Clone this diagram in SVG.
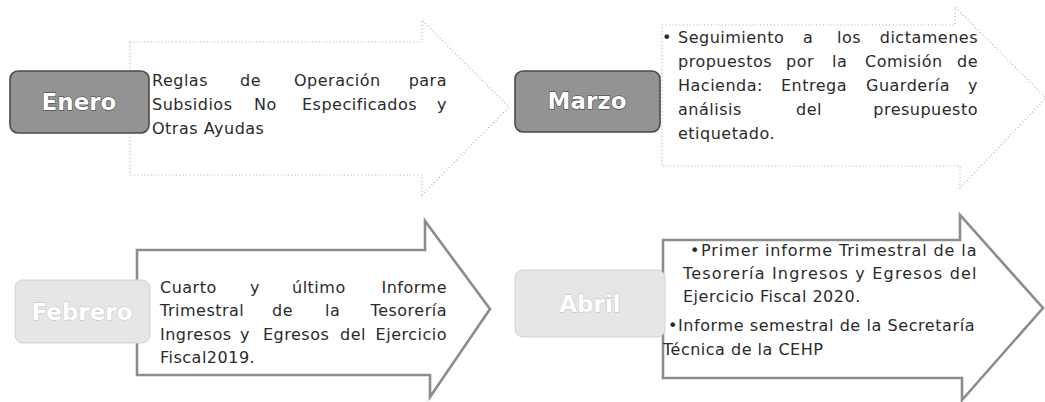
<svg xmlns="http://www.w3.org/2000/svg" width="1045" height="402" viewBox="0 0 1045 402">
<style>
.bg{fill:#ffffff}
.arrowTop{fill:#ffffff;stroke:#b0b0b0;stroke-width:1.2;stroke-dasharray:1 2.5;stroke-linejoin:miter}
.arrowBot{fill:#ffffff;stroke:#8c8c8c;stroke-width:2.6;stroke-linejoin:miter}
.boxDark{fill:#939393;stroke:#4a4a4a;stroke-width:1.6}
.boxLight{fill:#e6e6e6;stroke:#d2d2d2;stroke-width:1}
.lblDark{font-family:"DejaVu Sans","Liberation Sans",sans-serif;font-weight:bold;font-size:23px;fill:#ffffff;stroke:#3a3a3a;stroke-width:1;paint-order:stroke;text-anchor:middle}
.lblLight{font-family:"DejaVu Sans","Liberation Sans",sans-serif;font-weight:bold;font-size:23px;fill:#ffffff;stroke:#c4c4c4;stroke-width:0.9;paint-order:stroke;text-anchor:middle}
.t{font-family:"DejaVu Sans","Liberation Sans",sans-serif;font-size:16px;fill:#2a2a2a;letter-spacing:0.5px}
.e{text-anchor:end}
</style>
<rect class="bg" x="0" y="0" width="1045" height="402"/>

<g id="enero">
  <path class="arrowTop" d="M130,42 H422 V20 L509,107 L422,195 V175 H130 Z"/>
  <rect class="boxDark" x="10" y="71" width="139" height="62" rx="8"/>
  <text class="lblDark" x="79" y="110">Enero</text>
  <text class="t" y="86"><tspan x="152">Reglas</tspan><tspan x="240">de</tspan><tspan x="294">Operación</tspan></text>
  <text class="t e" x="447" y="86">para</text>
  <text class="t" y="110"><tspan x="152">Subsidios</tspan><tspan x="254">No</tspan><tspan x="302">Especificados</tspan></text>
  <text class="t e" x="447" y="110">y</text>
  <text class="t" x="152" y="134">Otras Ayudas</text>
</g>

<g id="marzo">
  <path class="arrowTop" d="M662,25 H955 V7 L1046,98 L960,188 V166 H662 Z"/>
  <rect class="boxDark" x="515" y="71" width="145" height="61" rx="8"/>
  <text class="lblDark" x="587" y="109">Marzo</text>
  <text class="t" x="662" y="43">•</text>
  <text class="t" y="43"><tspan x="678">Seguimiento</tspan><tspan x="803">a</tspan><tspan x="837">los</tspan></text>
  <text class="t e" x="978" y="43">dictamenes</text>
  <text class="t" y="67"><tspan x="678">propuestos</tspan><tspan x="786">por</tspan><tspan x="832">la</tspan><tspan x="865">Comisión</tspan></text>
  <text class="t e" x="978" y="67">de</text>
  <text class="t" y="91"><tspan x="678">Hacienda:</tspan><tspan x="781">Entrega</tspan><tspan x="866">Guardería</tspan></text>
  <text class="t e" x="978" y="91">y</text>
  <text class="t" y="115"><tspan x="678">análisis</tspan><tspan x="796">del</tspan></text>
  <text class="t e" x="978" y="115">presupuesto</text>
  <text class="t" x="678" y="139">etiquetado.</text>
</g>

<g id="febrero">
  <path class="arrowBot" d="M137,250 H425 V221 L490,309 L430,397 V375 H137 Z"/>
  <rect class="boxLight" x="15" y="280" width="135" height="63" rx="8"/>
  <text class="lblLight" x="82" y="320">Febrero</text>
  <text class="t" y="293"><tspan x="160">Cuarto</tspan><tspan x="250">y</tspan><tspan x="292">último</tspan></text>
  <text class="t e" x="447" y="293">Informe</text>
  <text class="t" y="316"><tspan x="160">Trimestral</tspan><tspan x="272">de</tspan><tspan x="325">la</tspan></text>
  <text class="t e" x="447" y="316">Tesorería</text>
  <text class="t" y="340"><tspan x="160">Ingresos</tspan><tspan x="240">y</tspan><tspan x="263">Egresos</tspan><tspan x="340">del</tspan></text>
  <text class="t e" x="447" y="340">Ejercicio</text>
  <text class="t" x="160" y="363">Fiscal2019.</text>
</g>

<g id="abril">
  <path class="arrowBot" d="M663,240 H960 V215 L1043,308 L962,400 V378 H663 Z"/>
  <rect class="boxLight" x="515" y="270" width="150" height="67" rx="8"/>
  <text class="lblLight" x="590" y="312">Abril</text>
  <text class="t" x="690" y="256">•</text>
  <text class="t" x="701" y="256" textLength="276" lengthAdjust="spacing">Primer informe Trimestral de la</text>
  <text class="t" x="683" y="279" textLength="294" lengthAdjust="spacing">Tesorería  Ingresos y Egresos del</text>
  <text class="t" x="683" y="302">Ejercicio Fiscal 2020.</text>
  <text class="t" x="668" y="331" textLength="307" lengthAdjust="spacing">•Informe semestral de la Secretaría</text>
  <text class="t" x="663" y="355">Técnica de la CEHP</text>
</g>
</svg>
